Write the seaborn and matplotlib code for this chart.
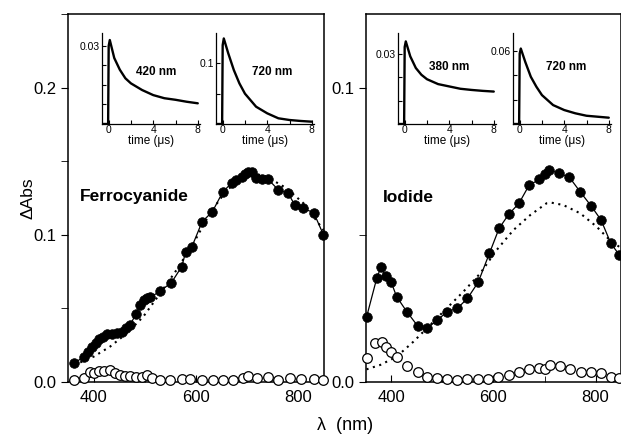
import matplotlib
matplotlib.use("Agg")
import matplotlib.pyplot as plt
from matplotlib.ticker import MultipleLocator, FixedLocator, NullFormatter
import seaborn as sns

# ---- spectra, ferrocyanide ----
fc_nm = [362, 381, 390, 397, 404, 411, 419, 427, 435, 445, 455, 463, 471, 483, 491,
         498, 505, 511, 530, 552, 572, 580, 592, 612, 632, 652, 670, 678, 689, 696,
         702, 709, 718, 728, 741, 761, 780, 793, 809, 830, 849]
fc_abs = [0.0127, 0.0172, 0.0206, 0.0240, 0.0267, 0.0290, 0.0308, 0.0324, 0.0326, 0.0331,
          0.0342, 0.0365, 0.0387, 0.0462, 0.0523, 0.0557, 0.0569, 0.0575, 0.0618, 0.0675,
          0.0783, 0.0885, 0.0919, 0.1089, 0.1157, 0.1289, 0.1354, 0.1372, 0.1395, 0.1413,
          0.1429, 0.1429, 0.1384, 0.1377, 0.1377, 0.1304, 0.1282, 0.1202, 0.1180, 0.1150,
          0.0999]
fc_fit_nm = [362, 400, 432, 465, 497, 530, 562, 595, 627, 660, 692, 712, 738, 777, 810, 849]
fc_fit = [0.0115, 0.0172, 0.0240, 0.0331, 0.0444, 0.0602, 0.0761, 0.0942, 0.1146, 0.1304,
          0.1384, 0.1418, 0.1395, 0.1316, 0.1214, 0.1033]
fc_open_nm = [362, 381, 392, 400, 411, 421, 432, 442, 452, 461, 472, 483, 494, 504, 514,
              530, 549, 572, 588, 611, 634, 653, 673, 691, 702, 719, 741, 761, 784, 806,
              831, 849]
fc_open = [0.0014, 0.0025, 0.0066, 0.0059, 0.0075, 0.0075, 0.0082, 0.0064, 0.0048, 0.0041,
           0.0041, 0.0036, 0.0036, 0.0048, 0.0025, 0.0014, 0.0014, 0.0020, 0.0018, 0.0014,
           0.0014, 0.0014, 0.0014, 0.0025, 0.0041, 0.0025, 0.0036, 0.0014, 0.0025, 0.0018,
           0.0018, 0.0014]

# ---- spectra, iodide ----
io_nm = [351, 371, 379, 389, 399, 410, 430, 451, 469, 490, 509, 529, 549, 570, 592,
         611, 630, 650, 670, 690, 700, 709, 729, 749, 770, 791, 811, 830, 847]
io_abs = [0.0220, 0.0352, 0.0389, 0.0360, 0.0341, 0.0290, 0.0239, 0.0191, 0.0182, 0.0210,
          0.0239, 0.0250, 0.0284, 0.0339, 0.0437, 0.0522, 0.0570, 0.0607, 0.0669, 0.0688,
          0.0706, 0.0720, 0.0709, 0.0695, 0.0646, 0.0599, 0.0550, 0.0471, 0.0431]
io_fit_nm = [351, 378, 410, 443, 476, 508, 541, 574, 606, 639, 672, 704, 714, 737, 770,
             802, 828, 850]
io_fit = [0.0043, 0.0058, 0.0086, 0.0137, 0.0194, 0.0250, 0.0307, 0.0369, 0.0448, 0.0516,
          0.0567, 0.0607, 0.0609, 0.0601, 0.0573, 0.0528, 0.0482, 0.0455]
io_open_nm = [351, 368, 381, 389, 399, 410, 430, 451, 469, 490, 509, 529, 549, 570, 590,
              609, 630, 650, 670, 690, 701, 711, 730, 750, 771, 791, 811, 830, 847]
io_open = [0.0083, 0.0133, 0.0137, 0.0120, 0.0103, 0.0084, 0.0055, 0.0033, 0.0018, 0.0013,
           0.0009, 0.0007, 0.0009, 0.0010, 0.0010, 0.0018, 0.0024, 0.0035, 0.0043, 0.0046,
           0.0044, 0.0058, 0.0054, 0.0043, 0.0035, 0.0033, 0.0030, 0.0018, 0.0013]

# ---- kinetic traces (insets) ----
t_us = [-0.5, -0.05, 0.0, 0.1, 0.5, 1, 1.5, 2, 3, 4, 5, 6, 7, 8]
fc420 = [0.010, 0.010, 0.0300, 0.0315, 0.0269, 0.0239, 0.0217, 0.0204, 0.0187, 0.0174,
         0.0166, 0.0162, 0.0157, 0.0153]
fc720 = [0.0, 0.0, 0.130, 0.141, 0.1165, 0.089, 0.067, 0.050, 0.0285, 0.0176, 0.0094,
         0.0066, 0.0050, 0.0038]
io380 = [0.0, 0.0, 0.033, 0.0354, 0.0290, 0.0240, 0.0211, 0.0192, 0.0171, 0.0161, 0.0151,
         0.0146, 0.0142, 0.0139]
io720 = [0.0, 0.0, 0.058, 0.0622, 0.0512, 0.0389, 0.0307, 0.0238, 0.0156, 0.0115, 0.0088,
         0.0068, 0.0060, 0.0052]

sns.set_style("ticks")
plt.rcParams['font.family'] = ['Liberation Sans', 'DejaVu Sans']
for k in ('text.color', 'axes.labelcolor', 'xtick.color', 'ytick.color', 'axes.edgecolor'):
    plt.rcParams[k] = 'black'

W, H = 621, 441
fig = plt.figure(figsize=(W / 100, H / 100), dpi=100)


def box(l, t, w, h):
    return [l / W, 1 - (t + h) / H, w / W, h / H]


def spectrum(ax, nm, vals, fit_nm, fit, open_nm, opn, ymax, ymajor, label, lx, ly):
    sns.lineplot(x=fit_nm, y=fit, ax=ax, color='k', lw=1.5, linestyle=(0, (1, 2.2)),
                 sort=False, estimator=None)
    sns.lineplot(x=nm, y=vals, ax=ax, color='k', lw=0.9, sort=False, estimator=None)
    sns.scatterplot(x=open_nm, y=opn, ax=ax, s=48, facecolor='white', edgecolor='k',
                    linewidth=0.9, clip_on=False, zorder=4)
    sns.scatterplot(x=nm, y=vals, ax=ax, s=48, color='k', edgecolor='k',
                    linewidth=0.5, clip_on=False, zorder=5)
    ax.set_xlim(350, 850)
    ax.set_ylim(0, ymax)
    ax.xaxis.set_major_locator(MultipleLocator(200))
    ax.xaxis.set_minor_locator(MultipleLocator(100))
    ax.yaxis.set_major_locator(MultipleLocator(ymajor))
    ax.yaxis.set_minor_locator(MultipleLocator(ymajor / 2))
    ax.yaxis.set_major_formatter(plt.FormatStrFormatter('%.1f'))
    ax.tick_params(axis='x', which='both', direction='in', labelsize=12, pad=6)
    ax.tick_params(axis='x', which='major', length=5)
    ax.tick_params(axis='x', which='minor', length=4)
    ax.tick_params(axis='y', which='both', direction='out', labelsize=12, length=5)
    for s in ax.spines.values():
        s.set_linewidth(1.1)
        s.set_visible(True)
    ax.set_xlabel('')
    ax.set_ylabel('')
    ax.text(lx, ly, label, fontsize=12.5, fontweight='bold', va='center', ha='left')


ax1 = fig.add_axes(box(68, 14, 256, 368))
spectrum(ax1, fc_nm, fc_abs, fc_fit_nm, fc_fit, fc_open_nm, fc_open, 0.25, 0.1,
         'Ferrocyanide', 373, 0.126)
ax1.set_ylabel('ΔAbs', fontsize=12.5, labelpad=-2)

ax2 = fig.add_axes(box(366, 14, 255, 368))
spectrum(ax2, io_nm, io_abs, io_fit_nm, io_fit, io_open_nm, io_open, 0.125, 0.1,
         'Iodide', 383, 0.0625)
ax2.yaxis.set_minor_locator(FixedLocator([0.05]))

fig.text(345 / W, 1 - 425 / H, 'λ  (nm)', fontsize=13, ha='center', va='center')


def inset(l, trace, ylim, ylab, yminor, label, lx, ly):
    ax = fig.add_axes(box(l, 33, 98, 91))
    sns.lineplot(x=t_us, y=trace, ax=ax, color='k', lw=1.7, sort=False, estimator=None)
    ax.set_xlim(-0.6, 8.2)
    ax.set_ylim(*ylim)
    ax.spines['top'].set_visible(False)
    ax.spines['right'].set_visible(False)
    for s in ('left', 'bottom'):
        ax.spines[s].set_linewidth(0.9)
    ax.xaxis.set_major_locator(FixedLocator([0, 4, 8]))
    ax.xaxis.set_minor_locator(FixedLocator([2, 6]))
    ax.yaxis.set_major_locator(FixedLocator([ylab]))
    ax.yaxis.set_minor_locator(FixedLocator(yminor))
    ax.yaxis.set_major_formatter(plt.FixedFormatter([str(ylab)]))
    ax.yaxis.set_minor_formatter(NullFormatter())
    ax.tick_params(which='both', direction='in', labelsize=7.5, length=3, width=0.8, pad=1.5)
    ax.tick_params(axis='x', pad=1)
    ax.set_xlabel('time (μs)', fontsize=8.5, labelpad=0)
    ax.set_ylabel('')
    ax.text(lx, ly, label, transform=ax.transAxes, fontsize=8.5, fontweight='bold',
            ha='center', va='center')
    return ax


inset(102, fc420, (0.010, 0.0333), 0.03, [0.015, 0.02, 0.025], '420 nm', 0.55, 0.57)
inset(216, fc720, (0.0, 0.15), 0.1, [0.05], '720 nm', 0.57, 0.57)
inset(398, io380, (0.0, 0.039), 0.03, [0.01, 0.02], '380 nm', 0.52, 0.63)
inset(513, io720, (0.0, 0.075), 0.06, [0.02, 0.04], '720 nm', 0.54, 0.63)

fig.savefig('out.png', dpi=100)
